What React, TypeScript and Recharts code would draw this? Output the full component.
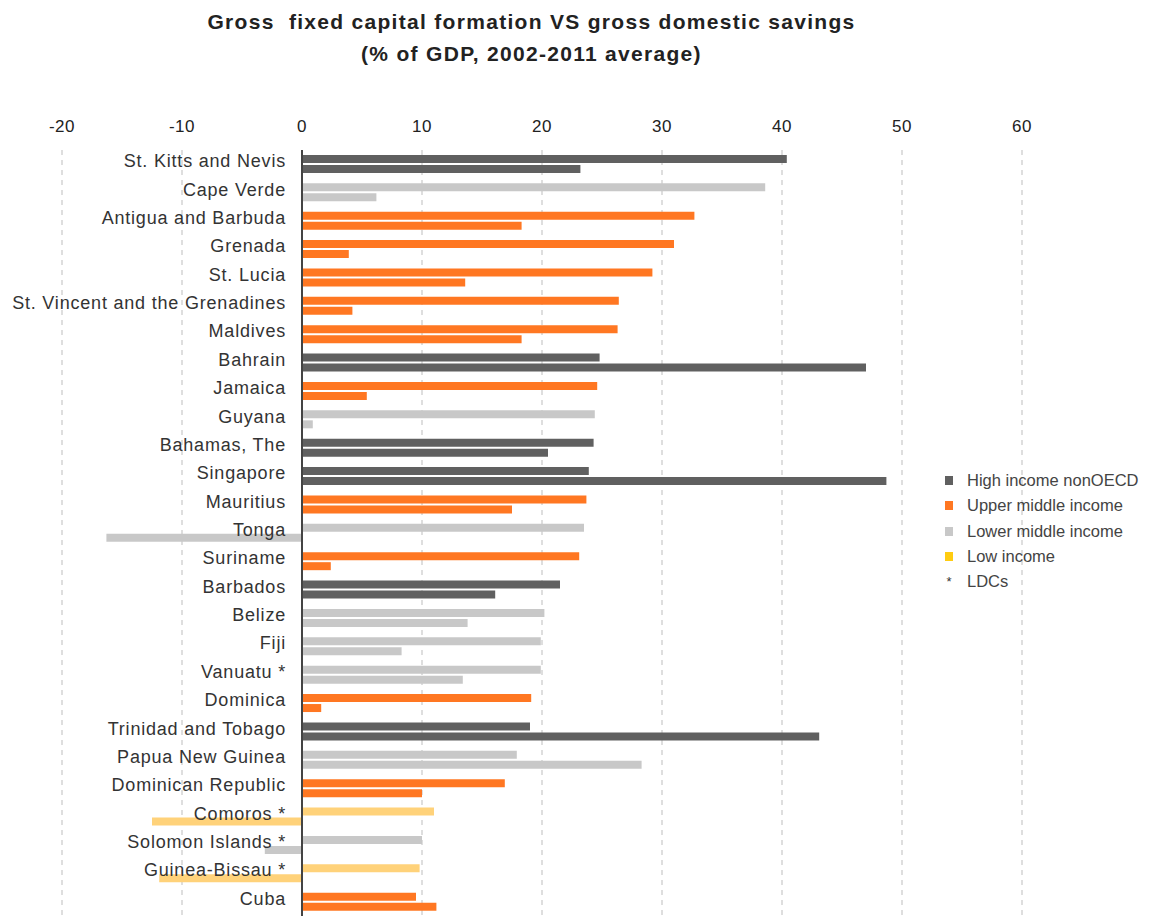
import { BarChart, Bar, XAxis, YAxis, CartesianGrid, ReferenceLine, Legend, Cell } from 'recharts'

const countries = [
  'St. Kitts and Nevis', 'Cape Verde', 'Antigua and Barbuda', 'Grenada', 'St. Lucia',
  'St. Vincent and the Grenadines', 'Maldives', 'Bahrain', 'Jamaica', 'Guyana',
  'Bahamas, The', 'Singapore', 'Mauritius', 'Tonga', 'Suriname', 'Barbados', 'Belize',
  'Fiji', 'Vanuatu *', 'Dominica', 'Trinidad and Tobago', 'Papua New Guinea',
  'Dominican Republic', 'Comoros *', 'Solomon Islands *', 'Guinea-Bissau *', 'Cuba',
]

// income group of each country
const groups = [
  'high', 'lower', 'upper', 'upper', 'upper',
  'upper', 'upper', 'high', 'upper', 'lower',
  'high', 'high', 'upper', 'lower', 'upper', 'high', 'lower',
  'lower', 'lower', 'upper', 'high', 'lower',
  'upper', 'low', 'lower', 'low', 'upper',
]

// gross fixed capital formation, % of GDP
const gfcf = [
  40.4, 38.6, 32.7, 31.0, 29.2,
  26.4, 26.3, 24.8, 24.6, 24.4,
  24.3, 23.9, 23.7, 23.5, 23.1, 21.5, 20.2,
  19.9, 19.9, 19.1, 19.0, 17.9,
  16.9, 11.0, 10.0, 9.8, 9.5,
]

// gross domestic savings, % of GDP
const savings = [
  23.2, 6.2, 18.3, 3.9, 13.6,
  4.2, 18.3, 47.0, 5.4, 0.9,
  20.5, 48.7, 17.5, -16.3, 2.4, 16.1, 13.8,
  8.3, 13.4, 1.6, 43.1, 28.3,
  10.0, -12.5, -3.1, -11.9, 11.2,
]

const xTicks = [-20, -10, 0, 10, 20, 30, 40, 50, 60]

const legendItems = [
  { key: 'high', label: 'High income nonOECD' },
  { key: 'upper', label: 'Upper middle income' },
  { key: 'lower', label: 'Lower middle income' },
  { key: 'low', label: 'Low income' },
  { key: 'ldc', label: 'LDCs' },
]

const BAR_COLORS: Record<string, string> = {
  high: '#606060',
  upper: '#ff7722',
  lower: '#c8c8c8',
  low: '#ffd27a',
}

const LEGEND_COLORS: Record<string, string> = {
  high: '#606060',
  upper: '#ff7722',
  lower: '#c8c8c8',
  low: '#ffcc11',
}

const W = 1149
const H = 924
const Y_AXIS_W = 1
const MARGIN = { top: 110, right: 127, bottom: 8, left: 61 }
const X_MIN = -20
const X_MAX = 60
const PLOT_LEFT = MARGIN.left + Y_AXIS_W
const PLOT_W = W - PLOT_LEFT - MARGIN.right
const ZERO_X = PLOT_LEFT + (PLOT_W * (0 - X_MIN)) / (X_MAX - X_MIN)

const data = countries.map((name, i) => ({
  name,
  group: groups[i],
  gfcf: gfcf[i],
  savings: savings[i],
}))

const FONT = "'Liberation Sans', Arial, sans-serif"

const renderCountryTick = (props: any) => (
  <text
    key={props.payload.value}
    x={ZERO_X - 16}
    y={props.y}
    dy={3}
    textAnchor="end"
    fontSize={18}
    letterSpacing={0.8}
    fill="#333"
    fontFamily={FONT}
  >
    {props.payload.value}
  </text>
)

function IncomeLegend() {
  return (
    <div style={{ fontFamily: FONT, fontSize: 16.5, color: '#444', whiteSpace: 'nowrap' }}>
      {legendItems.map((item) => (
        <div key={item.key} style={{ display: 'flex', alignItems: 'center', height: 25.3 }}>
          {item.key === 'ldc' ? (
            <span style={{ width: 8, marginRight: 14, textAlign: 'center', fontSize: 13, color: '#333' }}>*</span>
          ) : (
            <span
              style={{
                width: 8,
                height: 9,
                marginRight: 14,
                background: LEGEND_COLORS[item.key],
              }}
            />
          )}
          <span>{item.label}</span>
        </div>
      ))}
    </div>
  )
}

export default function App() {
  return (
    <div style={{ position: 'relative', width: W, height: H, margin: -8, fontFamily: FONT }}>
      <div
        style={{
          position: 'absolute',
          left: 0,
          top: 6,
          width: 1063,
          textAlign: 'center',
          fontWeight: 'bold',
          fontSize: 21,
          letterSpacing: 1.3,
          lineHeight: '32px',
          color: '#222',
          whiteSpace: 'pre',
        }}
      >
        {'Gross  fixed capital formation VS gross domestic savings\n(% of GDP, 2002-2011 average)'}
      </div>
      <BarChart
        width={W}
        height={H}
        data={data}
        layout="vertical"
        margin={MARGIN}
        barSize={8}
        barGap={2}
      >
        <CartesianGrid horizontal={false} strokeDasharray="5 5" stroke="#bdbdbd" />
        <XAxis
          type="number"
          orientation="top"
          domain={[X_MIN, X_MAX]}
          ticks={xTicks}
          height={40}
          axisLine={false}
          tickLine={false}
          tickMargin={12}
          tick={{ fontSize: 17, fill: '#222', letterSpacing: 0.5, fontFamily: FONT }}
        />
        <YAxis
          type="category"
          dataKey="name"
          width={Y_AXIS_W}
          axisLine={false}
          tickLine={false}
          interval={0}
          tick={renderCountryTick}
        />
        <Bar dataKey="gfcf" isAnimationActive={false}>
          {data.map((d) => (
            <Cell key={d.name} fill={BAR_COLORS[d.group]} />
          ))}
        </Bar>
        <Bar dataKey="savings" isAnimationActive={false}>
          {data.map((d) => (
            <Cell key={d.name} fill={BAR_COLORS[d.group]} />
          ))}
        </Bar>
        <ReferenceLine x={0} stroke="#444" strokeWidth={2} />
        <Legend
          layout="vertical"
          align="center"
          verticalAlign="middle"
          wrapperStyle={{ left: 945, top: 468, width: 200 }}
          content={<IncomeLegend />}
        />
      </BarChart>
    </div>
  )
}
